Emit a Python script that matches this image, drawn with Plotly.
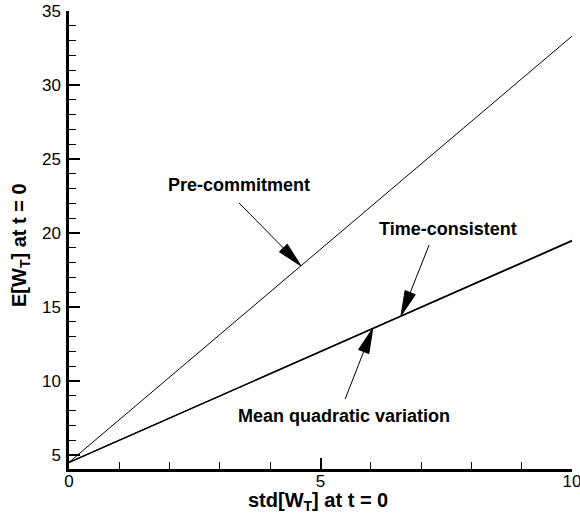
import math
import plotly.graph_objects as go

# ---- data ----
x_ends = [0, 10]
pre_commitment = [4.5, 33.3]
time_consistent = [4.5, 19.5]
mean_quad_var = [4.5, 19.45]

x_ticks = [0, 5, 10]
y_ticks = [5, 10, 15, 20, 25, 30, 35]
x_range = [0, 10]
y_range = [4.05, 35]

# annotation labels and arrows (data coordinates)
labels = ["Pre-commitment", "Time-consistent", "Mean quadratic variation"]
label_x = [3.37, 7.53, 5.47]
label_y = [23.24, 20.27, 7.64]
head_x = [4.61, 6.6, 6.04]
head_y = [17.78, 14.4, 13.56]
tail_x = [3.38, 7.16, 5.49]
tail_y = [22.03, 19.19, 8.78]

font = "Liberation Sans, Arial, sans-serif"

W, H = 580, 516
M = dict(l=69, r=8, t=11, b=47)
PW = W - M["l"] - M["r"]
PH = H - M["t"] - M["b"]
sx = PW / (x_range[1] - x_range[0])   # px per x unit
sy = PH / (y_range[1] - y_range[0])   # px per y unit

fig = go.Figure()
for ys, wdt in [(pre_commitment, 1), (time_consistent, 1.2), (mean_quad_var, 1.2)]:
    fig.add_trace(go.Scatter(x=x_ends, y=ys, mode="lines",
                             line=dict(color="black", width=wdt),
                             showlegend=False, hoverinfo="skip", cliponaxis=False))

HEAD_LEN, HEAD_W = 25, 11
for i, lab in enumerate(labels):
    fig.add_annotation(x=label_x[i], y=label_y[i], text="<b>%s</b>" % lab,
                       xanchor="center", yanchor="middle",
                       showarrow=False, font=dict(family=font, size=18, color="black"))
    # arrow geometry derived from head/tail points
    dxp = (tail_x[i] - head_x[i]) * sx
    dyp = (tail_y[i] - head_y[i]) * sy
    L = math.hypot(dxp, dyp)
    ux, uy = dxp / L, dyp / L
    px_, py_ = -uy, ux
    bx = head_x[i] + ux * HEAD_LEN / sx
    by = head_y[i] + uy * HEAD_LEN / sy
    c1 = (bx + px_ * HEAD_W / 2 / sx, by + py_ * HEAD_W / 2 / sy)
    c2 = (bx - px_ * HEAD_W / 2 / sx, by - py_ * HEAD_W / 2 / sy)
    fig.add_trace(go.Scatter(x=[tail_x[i], bx], y=[tail_y[i], by], mode="lines",
                             line=dict(color="black", width=1),
                             showlegend=False, hoverinfo="skip"))
    fig.add_trace(go.Scatter(x=[head_x[i], c1[0], c2[0], head_x[i]],
                             y=[head_y[i], c1[1], c2[1], head_y[i]],
                             mode="lines", fill="toself", fillcolor="black",
                             line=dict(color="black", width=1),
                             showlegend=False, hoverinfo="skip"))

axis_common = dict(showline=True, linecolor="black", linewidth=2.5, mirror=False,
                   showgrid=False, zeroline=False, ticks="inside", ticklen=11,
                   tickwidth=2, tickcolor="black", ticklabeloverflow="allow",
                   automargin=False,
                   tickfont=dict(family=font, size=17, color="black"))

fig.update_xaxes(range=x_range, tickvals=x_ticks, ticklabelstandoff=-5,
                 minor=dict(ticks="inside", dtick=1, ticklen=7, tickwidth=1, tickcolor="black"),
                 **axis_common)
fig.update_yaxes(range=y_range, tickvals=y_ticks, ticklabelstandoff=2,
                 minor=dict(ticks="inside", dtick=1, ticklen=7, tickwidth=1, tickcolor="black"),
                 **axis_common)

# axis titles
fig.add_annotation(xref="paper", yref="paper", x=(318 - M["l"]) / PW,
                   y=-(501 - (H - M["b"])) / PH, xanchor="center", yanchor="middle",
                   text="<b>std[W<sub>T</sub>] at t = 0</b>", showarrow=False,
                   font=dict(family=font, size=20, color="black"))
fig.add_annotation(xref="paper", yref="paper", x=-(M["l"] - 20) / PW,
                   y=((H - M["b"]) - 245) / PH, xanchor="center", yanchor="middle",
                   text="<b>E[W<sub>T</sub>] at t = 0</b>", showarrow=False, textangle=-90,
                   font=dict(family=font, size=20, color="black"))

fig.update_layout(width=W, height=H, margin=M,
                  plot_bgcolor="white", paper_bgcolor="white")

fig.write_html("out.html")
